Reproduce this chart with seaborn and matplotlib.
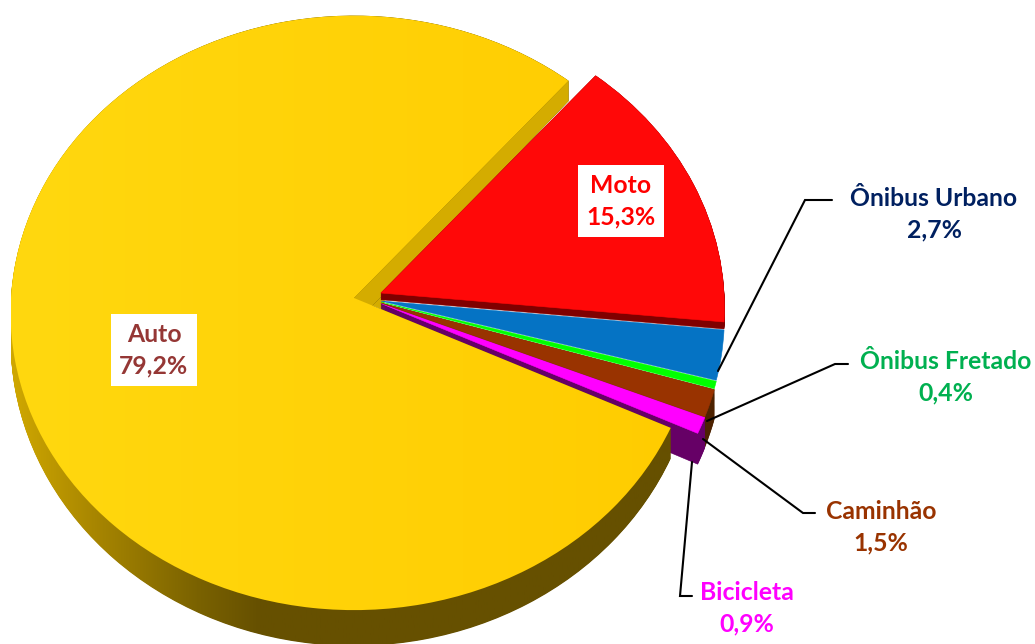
import numpy as np
import matplotlib
matplotlib.use('Agg')
import matplotlib.pyplot as plt
import seaborn as sns
from matplotlib.colors import LinearSegmentedColormap
from matplotlib.patches import Polygon, Wedge
from matplotlib.transforms import Transform

categories = ['Moto', 'Ônibus Urbano', 'Ônibus Fretado', 'Caminhão', 'Bicicleta', 'Auto']
shares = [15.3, 2.7, 0.4, 1.5, 0.9, 79.2]
share_labels = ['15,3%', '2,7%', '0,4%', '1,5%', '0,9%', '79,2%']
top_colors = ['#ff0808', '#0573c4', '#00ff00', '#993300', '#ff00ff', '#ffd007']
wall_colors = ['#800000', '#03508a', '#00a000', '#4d2200', '#660066', '#665000']
text_colors = ['#ff0000', '#002060', '#00b050', '#993300', '#ff00ff', '#953735']

sns.set_theme(style='white')
plt.rcParams['font.family'] = ['Lato', 'DejaVu Sans']

RX, RY, B, DEPTH = 343.0, 296.5, 0.05, 27.0


class Tilt(Transform):
    """unit pie -> picture pixels, with a little perspective"""
    input_dims = 2
    output_dims = 2
    is_separable = False
    has_inverse = False

    def __init__(self, cx, cy, z=0.0):
        super().__init__()
        self.cx, self.cy, self.z = cx, cy, z

    def transform_non_affine(self, values):
        x, y = np.asarray(values).T
        w = 1 + B * y
        return np.column_stack([self.cx + RX * x / w,
                                self.cy - RY * y / w + self.z * DEPTH * (1 - 0.33 * y)])


fig, ax = plt.subplots(figsize=(10.35, 6.44), dpi=100)
fig.subplots_adjust(0, 0, 1, 1)

base, _ = ax.pie(shares, startangle=49.5, counterclock=False, colors=sns.color_palette(top_colors))
for w in base:
    w.set_visible(False)
order = 10


def piece(i, cx, cy, z=0.0, color=None):
    global order
    order += 1
    b = base[i]
    p = Wedge((0, 0), 1, b.theta1, b.theta2, facecolor=color, edgecolor=color, lw=0.4, zorder=order)
    p.set_transform(Tilt(cx, cy, z) + ax.transData)
    ax.add_patch(p)
    return p


def shaded(i, cx, cy, z, cmap, extent):
    global order
    p = piece(i, cx, cy, z, 'none')
    p.set_visible(False)
    im = ax.imshow(np.linspace(0, 1, 256).reshape(1, -1), cmap=cmap, extent=extent,
                   aspect='auto', zorder=order)
    im.set_clip_path(p)


apex_y = [293, 301, 302, 303, 303.5]
AUTO = (354, 298)
MOTO_X = 381

# notch right of the Auto apex, behind everything
notch = Wedge((0, 0), 0.09, base[5].theta2, base[5].theta1 + 360, facecolor='#d4ac00', edgecolor='none', zorder=5)
notch.set_transform(Tilt(*AUTO) + ax.transData)
ax.add_patch(notch)

# side walls of the small slices
for z in np.linspace(1, 0, 28):
    piece(3, MOTO_X, apex_y[3], z, wall_colors[3])
for z in np.linspace(1, 0, 40):
    piece(4, MOTO_X, apex_y[4], z, wall_colors[4])

# top faces, lowest slice first
for i in [4, 3, 2, 1]:
    piece(i, MOTO_X, apex_y[i], 0, top_colors[i])

# Auto wall with its shading
wall_map = LinearSegmentedColormap.from_list(
    'wall', [(0, '#d0a800'), (0.12, '#a88600'), (0.27, '#7a6200'), (0.36, '#665000'), (1, '#665000')])
for z in np.linspace(1, 0, 60):
    shaded(5, AUTO[0], AUTO[1], z, wall_map, (11, 700, 644, 0))

# cut face of Auto next to Moto
t = np.deg2rad(base[5].theta1)
edge = np.array([[0, 0], [np.cos(t), np.sin(t)]])
upper = Tilt(*AUTO, 0).transform_non_affine(edge)
lower = Tilt(*AUTO, 1).transform_non_affine(edge)
order += 1
ax.add_patch(Polygon(np.vstack([upper, lower[::-1]]), facecolor='#d4ac00', edgecolor='none', zorder=order))

top_map = LinearSegmentedColormap.from_list('top', ['#ffd80f', '#ffcc00'])
shaded(5, AUTO[0], AUTO[1], 0, top_map, (11, 690, 644, 0))

# Moto sits last, its wall hangs over the blue slice
for z in np.linspace(0.25, 0, 10):
    piece(0, MOTO_X, apex_y[0], z, wall_colors[0])
piece(0, MOTO_X, apex_y[0], 0, top_colors[0])

# leader lines
leaders = [
    ([832, 805, 718], [200, 200, 371]),
    ([848, 835, 707], [364, 364, 421]),
    ([815, 803, 703], [513, 513, 439]),
    ([692, 680, 692], [596, 596, 462]),
]
for lx, ly in leaders:
    ax.plot(lx, ly, color='black', lw=1.5, zorder=900, solid_joinstyle='miter')

# labels
label_xy = [(621, 201), (934, 214), (946, 377), (881, 527), (747, 608), (154, 350)]
for i, (lx, ly) in enumerate(label_xy):
    box = dict(facecolor='white', edgecolor='none', pad=6) if i in (0, 5) else None
    ax.text(lx, ly, categories[i] + '\n' + share_labels[i], color=text_colors[i], fontsize=17.8,
            fontweight='bold', ha='center', va='center', linespacing=1.45, bbox=box, zorder=1000)

ax.set_xlim(0, 1035)
ax.set_ylim(644, 0)
ax.set_aspect('auto')
ax.axis('off')

fig.savefig('out.png', dpi=100, facecolor='white')
